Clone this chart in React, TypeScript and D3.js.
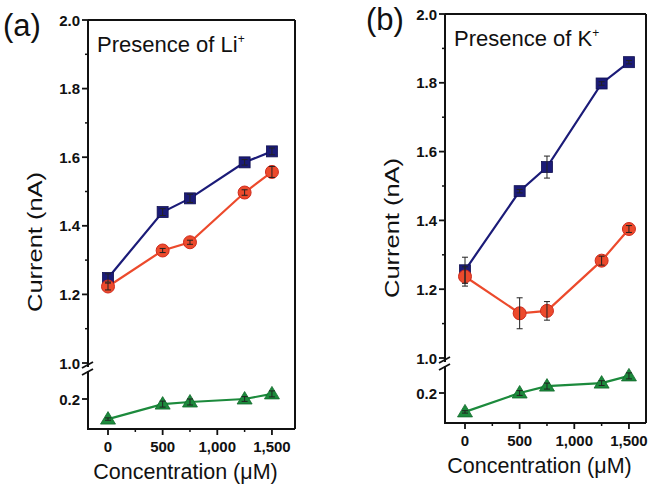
import React from 'react'
import * as d3 from 'd3'

// concentrations (µM)
const concentrations = [0, 500, 750, 1250, 1500]

// panel (a) – Li+
const liBlue = [1.248, 1.44, 1.48, 1.585, 1.617]
const liBlueErr = [0.012, 0.01, 0.012, 0.008, 0.01]
const liRed = [1.223, 1.328, 1.352, 1.497, 1.557]
const liRedErr = [0.01, 0.006, 0.006, 0.008, 0.016]
const liGreen = [0.133, 0.183, 0.19, 0.2, 0.217]
const liGreenErr = [0.004, 0.01, 0.01, 0.008, 0.01]

// panel (b) – K+
const kBlue = [1.255, 1.485, 1.555, 1.798, 1.86]
const kBlueErr = [0.038, 0.005, 0.032, 0.005, 0.005]
const kRed = [1.237, 1.13, 1.137, 1.283, 1.375]
const kRedErr = [0.028, 0.045, 0.027, 0.013, 0.01]
const kGreen = [0.137, 0.2, 0.223, 0.233, 0.257]
const kGreenErr = [0.004, 0.008, 0.01, 0.008, 0.01]

const upperTicks = [1.0, 1.2, 1.4, 1.6, 1.8, 2.0]
const upperMinor = [1.1, 1.3, 1.5, 1.7, 1.9]
const lowerTicks = [0.2]
const xTicks = [0, 500, 1000, 1500]
const xMinor = [250, 750, 1250]

const BLUE = '#1b1b78'
const RED = '#ec4a2c'
const GREEN = '#1c8a3c'
const FONT = "'Liberation Sans', Arial, Helvetica, sans-serif"

const fmtX = d3.format(',')

type Panel = {
  label: string
  ion: string
  x0: number
  x1: number
  y2: number
  y1: number
  breakTop: number
  breakBot: number
  bottom: number
  xMax: number
  blue: number[]
  blueErr: number[]
  red: number[]
  redErr: number[]
  green: number[]
  greenErr: number[]
  titleY: number
  labelX: number
}

const panels: Panel[] = [
  {
    label: '(a)', ion: 'Li', x0: 88, x1: 295, y2: 20, y1: 363, breakTop: 367, breakBot: 371, bottom: 429,
    xMax: 1711, blue: liBlue, blueErr: liBlueErr, red: liRed, redErr: liRedErr, green: liGreen, greenErr: liGreenErr,
    titleY: 242, labelX: 3,
  },
  {
    label: '(b)', ion: 'K', x0: 445, x1: 646, y2: 14, y1: 358, breakTop: 362, breakBot: 366, bottom: 423,
    xMax: 1656, blue: kBlue, blueErr: kBlueErr, red: kRed, redErr: kRedErr, green: kGreen, greenErr: kGreenErr,
    titleY: 228, labelX: 366,
  },
]

const Square = ({ x, y }: { x: number; y: number }) => (
  <rect x={x - 5.5} y={y - 5.5} width={11} height={11} fill={BLUE} stroke="#101050" strokeWidth={0.8} />
)
const Circle = ({ x, y }: { x: number; y: number }) => (
  <circle cx={x} cy={y} r={6.5} fill={RED} stroke="#d02a1c" strokeWidth={1} />
)
const Triangle = ({ x, y }: { x: number; y: number }) => (
  <path d={`M${x},${y - 7.5}L${x + 7.5},${y + 5}L${x - 7.5},${y + 5}Z`} fill={GREEN} stroke="#126a2c" strokeWidth={0.8} />
)

const ErrBar = ({ x, yHi, yLo }: { x: number; yHi: number; yLo: number }) => (
  <g stroke="#222" strokeWidth={1}>
    <line x1={x} x2={x} y1={yHi} y2={yLo} />
    <line x1={x - 3} x2={x + 3} y1={yHi} y2={yHi} />
    <line x1={x - 3} x2={x + 3} y1={yLo} y2={yLo} />
  </g>
)

const PanelView = ({ p }: { p: Panel }) => {
  const x = d3.scaleLinear().domain([-183, p.xMax]).range([p.x0, p.x1])
  const yU = d3.scaleLinear().domain([1, 2]).range([p.y1, p.y2])
  const yL = d3.scaleLinear().domain([0.1, 0.3]).range([p.bottom, p.bottom - 60])
  const lineU = d3.line<number>().x((_, i) => x(concentrations[i])).y(d => yU(d))
  const lineL = d3.line<number>().x((_, i) => x(concentrations[i])).y(d => yL(d))
  const top = p.y2

  return (
    <g fontFamily={FONT}>
      {/* frame */}
      <line x1={p.x0} x2={p.x1} y1={top} y2={top} stroke="#111" strokeWidth={2} />
      <line x1={p.x1} x2={p.x1} y1={top} y2={p.bottom} stroke="#111" strokeWidth={2} />
      <line x1={p.x0 - 1} x2={p.x1} y1={p.bottom} y2={p.bottom} stroke="#111" strokeWidth={2} />
      <line x1={p.x0} x2={p.x0} y1={top} y2={p.breakTop} stroke="#111" strokeWidth={2} />
      <line x1={p.x0} x2={p.x0} y1={p.breakBot} y2={p.bottom} stroke="#111" strokeWidth={2} />
      {/* break marks */}
      <line x1={p.x0 - 6} x2={p.x0 + 5} y1={p.breakTop + 1} y2={p.breakTop - 5} stroke="#111" strokeWidth={1.8} />
      <line x1={p.x0 - 6} x2={p.x0 + 5} y1={p.breakBot + 4} y2={p.breakBot - 2} stroke="#111" strokeWidth={1.8} />

      {/* y ticks upper */}
      {upperTicks.map(t => (
        <g key={t}>
          <line x1={p.x0 - 6} x2={p.x0} y1={yU(t)} y2={yU(t)} stroke="#111" strokeWidth={1.8} />
          <text x={p.x0 - 8} y={yU(t)} textAnchor="end" dominantBaseline="central" fontSize={15} fontWeight="bold" fill="#111">
            {t.toFixed(1)}
          </text>
        </g>
      ))}
      {upperMinor.map(t => (
        <line key={t} x1={p.x0 - 3} x2={p.x0} y1={yU(t)} y2={yU(t)} stroke="#111" strokeWidth={1.5} />
      ))}
      {/* y ticks lower */}
      {lowerTicks.map(t => (
        <g key={t}>
          <line x1={p.x0 - 6} x2={p.x0} y1={yL(t)} y2={yL(t)} stroke="#111" strokeWidth={1.8} />
          <text x={p.x0 - 8} y={yL(t)} textAnchor="end" dominantBaseline="central" fontSize={15} fontWeight="bold" fill="#111">
            {t.toFixed(1)}
          </text>
        </g>
      ))}
      {/* x ticks */}
      {xTicks.map(t => (
        <g key={t}>
          <line x1={x(t)} x2={x(t)} y1={p.bottom} y2={p.bottom + 6} stroke="#111" strokeWidth={1.8} />
          <text x={x(t)} y={p.bottom + 23} textAnchor="middle" fontSize={15} fontWeight="bold" fill="#111">
            {fmtX(t)}
          </text>
        </g>
      ))}
      {xMinor.map(t => (
        <line key={t} x1={x(t)} x2={x(t)} y1={p.bottom} y2={p.bottom + 3} stroke="#111" strokeWidth={1.5} />
      ))}

      {/* series lines */}
      <path d={lineU(p.blue) ?? ''} fill="none" stroke={BLUE} strokeWidth={2.2} />
      <path d={lineU(p.red) ?? ''} fill="none" stroke={RED} strokeWidth={2.2} />
      <path d={lineL(p.green) ?? ''} fill="none" stroke={GREEN} strokeWidth={2.2} />

      {/* markers */}
      {p.blue.map((v, i) => <Square key={'b' + i} x={x(concentrations[i])} y={yU(v)} />)}
      {p.red.map((v, i) => <Circle key={'r' + i} x={x(concentrations[i])} y={yU(v)} />)}
      {p.green.map((v, i) => <Triangle key={'g' + i} x={x(concentrations[i])} y={yL(v)} />)}

      {/* error bars */}
      {p.blue.map((v, i) => (
        <ErrBar key={'eb' + i} x={x(concentrations[i])} yHi={yU(v + p.blueErr[i])} yLo={yU(v - p.blueErr[i])} />
      ))}
      {p.red.map((v, i) => (
        <ErrBar key={'er' + i} x={x(concentrations[i])} yHi={yU(v + p.redErr[i])} yLo={yU(v - p.redErr[i])} />
      ))}
      {p.green.map((v, i) => (
        <ErrBar key={'eg' + i} x={x(concentrations[i])} yHi={yL(v + p.greenErr[i])} yLo={yL(v - p.greenErr[i])} />
      ))}

      {/* texts */}
      <text x={p.labelX} y={top + 16} fontSize={31} fill="#111">{p.label}</text>
      <text x={p.x0 + 9} y={top + 32} fontSize={22} fill="#111">
        Presence of {p.ion}
        <tspan fontSize={12} dy={-9}>+</tspan>
      </text>
      <text
        transform={`translate(${p.x0 - 46},${p.titleY}) rotate(-90)`}
        textAnchor="middle"
        fontSize={21}
        textLength={140}
        lengthAdjust="spacingAndGlyphs"
        fill="#111"
      >
        Current (nA)
      </text>
      <text x={(p.x0 + p.x1) / 2 - 6} y={p.bottom + 50} textAnchor="middle" fontSize={21.5} fill="#111">
        Concentration (μM)
      </text>
    </g>
  )
}

export default function App() {
  return (
    <svg width={648} height={487} style={{ position: 'absolute', left: 0, top: 0, background: '#fff' }}>
      {panels.map(p => <PanelView key={p.label} p={p} />)}
    </svg>
  )
}
